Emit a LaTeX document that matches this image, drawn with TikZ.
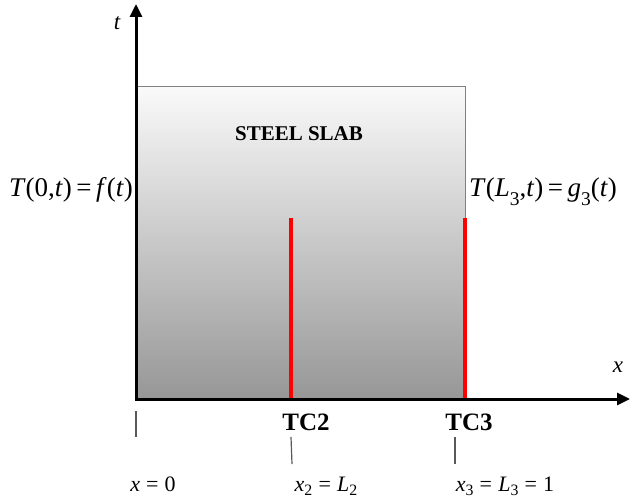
\documentclass[tikz,border=0pt]{standalone}
\usepackage{fontspec}
\setmainfont{Liberation Serif}
\usetikzlibrary{arrows.meta}
\newcommand\mysub[1]{\raisebox{-0.3em}{\scalebox{0.72}{#1}}}
\newcommand\mybsub[1]{\raisebox{-0.22em}{\scalebox{0.72}{#1}}}
\newcommand\myeq{\hspace{0.28em}=\hspace{0.28em}}
\begin{document}
\begin{tikzpicture}[x=1pt,y=-1pt,
  axis/.style={line width=3pt, line cap=rect, -{Triangle[length=13pt,width=12pt]}},
  slab/.style={draw=black!50, line width=1pt, top color=black!2, bottom color=black!41, inner sep=0pt},
  tcline/.style={red, line width=4pt},
  tickmark/.style={black!65, line width=1.2pt},
  eqlbl/.style={inner sep=0pt, font=\fontsize{27}{30}\selectfont},
  botlbl/.style={inner sep=0pt, anchor=base, font=\fontsize{22}{24}\selectfont},
  tclbl/.style={inner sep=0pt, font=\fontsize{25}{28}\selectfont\bfseries},
  axlbl/.style={inner sep=0pt, font=\fontsize{23}{25}\selectfont\itshape}
]
\useasboundingbox (0,0) rectangle (631,502);
% slab
\node[slab, anchor=north west, minimum width=329pt, minimum height=313pt] (slab) at (136,86) {};
\node[inner sep=0pt, font=\fontsize{21}{23}\selectfont\bfseries] (title) at (299,134) {STEEL SLAB};
% thermocouples
\coordinate (tc2top) at (291,218);
\coordinate (tc2bot) at (291,399);
\coordinate (tc3top) at (465,218);
\coordinate (tc3bot) at (465,399);
\draw[tcline] (tc2top) -- (tc2bot);
\draw[tcline] (tc3top) -- (tc3bot);
% axes
\coordinate (O) at (136,399);
\coordinate (ttip) at (136,4);
\coordinate (xtip) at (630,399);
\draw[axis] (O) -- (ttip);
\draw[axis] (O) -- (xtip);
\node[axlbl] (tlab) at (117,23) {t};
\node[axlbl] (xlab) at (618,367) {x};
% boundary conditions
\node[eqlbl, anchor=base east] (bcleft) at (133,197) {\textit{T}(0,\textit{t})\,=\,\textit{f}(\textit{t})};
\node[eqlbl, anchor=base west] (bcright) at (469,197) {\textit{T}(\textit{L}\mysub{3},\textit{t})\,=\,\textit{g}\mysub{3}(\textit{t})};
% TC labels
\node[tclbl] (tc2) at (306,422) {TC2};
\node[tclbl] (tc3) at (469,422) {TC3};
% ticks
\coordinate (k1a) at (136,411);
\coordinate (k1b) at (136,437);
\coordinate (k2a) at (291,437);
\coordinate (k2b) at (292,464);
\coordinate (k3a) at (455,437);
\coordinate (k3b) at (455,464);
\draw[tickmark] (k1a) -- (k1b);
\draw[tickmark] (k2a) -- (k2b);
\draw[tickmark] (k3a) -- (k3b);
% positions
\node[botlbl] (p0) at (153,491) {\textit{x}\myeq 0};
\node[botlbl] (p2) at (326,491) {\textit{x}\mybsub{2}\myeq\textit{L}\mybsub{2}};
\node[botlbl] (p3) at (505,491) {\textit{x}\mybsub{3}\myeq\textit{L}\mybsub{3}\myeq 1};
\end{tikzpicture}
\end{document}
